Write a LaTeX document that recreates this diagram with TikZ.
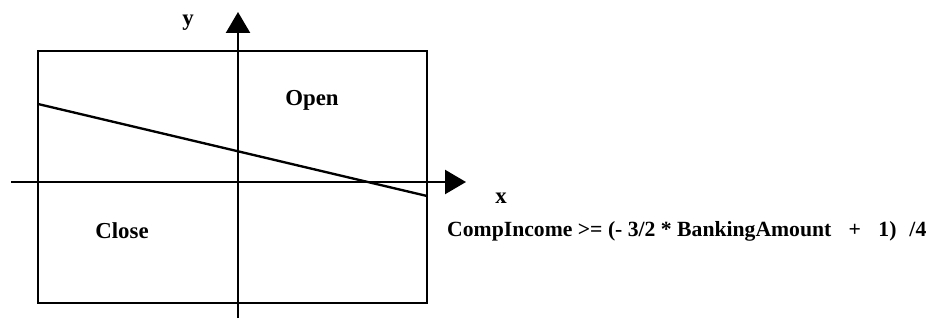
\documentclass[tikz,border=0pt]{standalone}
\usepackage{fontspec}
\setmainfont{Liberation Serif}
\usetikzlibrary{arrows.meta, positioning}

\begin{document}
\begin{tikzpicture}[
    x=0.03cm, y=-0.03cm,
    frame/.style={draw, line width=2pt},
    axis/.style={line width=2pt, -{Triangle[length=0.63cm, width=0.72cm]}},
    bound/.style={line width=2pt},
    lbl/.style={font=\fontsize{19.5}{22}\selectfont\bfseries, inner sep=0pt}
]
\useasboundingbox (0,0) rectangle (933,320);

% region and axes
\draw[frame] (38,51) rectangle (427,303);
\coordinate (xs) at (11,182);
\coordinate (xe) at (466,182);
\coordinate (ys) at (238,318);
\coordinate (ye) at (238,12);
\draw[axis] (xs) -- (xe);
\draw[axis] (ys) -- (ye);

% decision boundary
\coordinate (bl) at (38,104);
\coordinate (br) at (427,196);
\draw[bound] (bl) -- (br);

\node[lbl] (ylab) at (188,23) {y};
\node[lbl] (xlab) at (501,198) {x};
\node[lbl] (open) at (312,100) {Open};
\node[lbl] (close) at (122,231) {Close};
\node[lbl, anchor=west, font=\fontsize{18.5}{22}\selectfont\bfseries] (rule) at (447,231) {CompIncome >= (- 3/2 * BankingAmount\hspace{0.8em}+\hspace{0.8em}1)\hspace{0.6em}/4};

\end{tikzpicture}
\end{document}
